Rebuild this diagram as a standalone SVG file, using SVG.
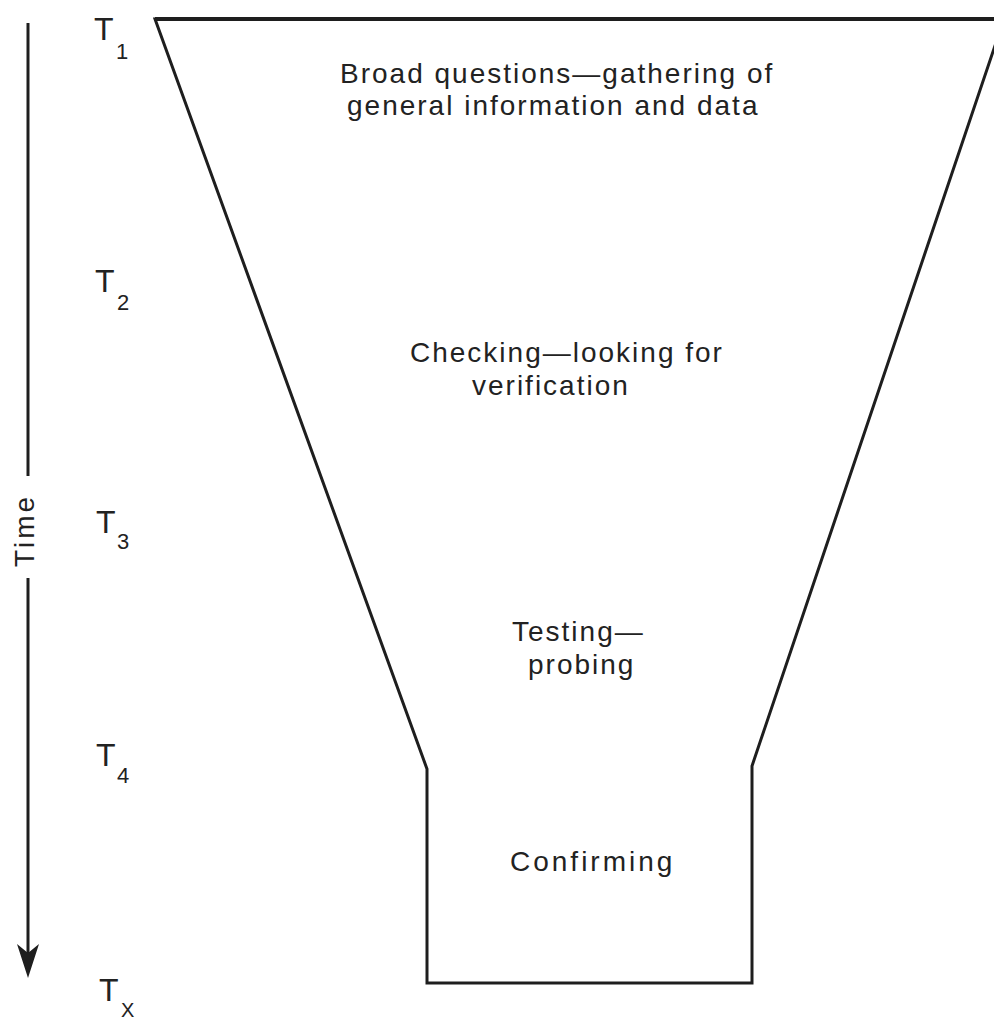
<svg xmlns="http://www.w3.org/2000/svg" width="994" height="1022" viewBox="0 0 994 1022">
  <style>
    .lbl { font-family: "Liberation Sans", Arial, sans-serif; font-size: 28px; letter-spacing: 2px; fill: #222; }
    .t { font-family: "Liberation Sans", Arial, sans-serif; font-size: 32px; fill: #222; }
    .sub { font-family: "Liberation Sans", Arial, sans-serif; font-size: 22px; fill: #222; }
    .edge { fill: none; stroke: #1e1e1e; stroke-width: 3; stroke-linejoin: miter; }
  </style>
  <rect width="994" height="1022" fill="#ffffff"/>

  <!-- time axis -->
  <g id="time-axis">
    <line x1="28" y1="23" x2="28" y2="476" class="edge"/>
    <line x1="28" y1="578" x2="28" y2="956" class="edge"/>
    <path d="M28,978 L17,944 L28,953 L39,944 Z" fill="#1e1e1e"/>
    <text class="lbl" transform="translate(34,567) rotate(-90)" style="letter-spacing:3px">Time</text>
  </g>

  <!-- time marks -->
  <g id="time-marks">
    <text class="t" x="94" y="40">T</text><text class="sub" x="116" y="59">1</text>
    <text class="t" x="95" y="292">T</text><text class="sub" x="117" y="310">2</text>
    <text class="t" x="96" y="533">T</text><text class="sub" x="117" y="549">3</text>
    <text class="t" x="96" y="766">T</text><text class="sub" x="117" y="783">4</text>
    <text class="t" x="99" y="1001">T</text><text class="sub" x="121" y="1017" style="font-size:20px">X</text>
  </g>

  <!-- funnel outline -->
  <g id="funnel">
    <path class="edge" d="M1004,19 L155,19 L427,769 L427,983 L752,983 L752,766 L1004,19" />
    <line x1="155" y1="19" x2="994" y2="19" stroke="#1e1e1e" stroke-width="4"/>
  </g>

  <!-- stage labels -->
  <g id="stage-broad">
    <text class="lbl" x="340" y="83">Broad questions—gathering of</text>
    <text class="lbl" x="347" y="115">general information and data</text>
  </g>
  <g id="stage-checking">
    <text class="lbl" x="410" y="362">Checking—looking for</text>
    <text class="lbl" x="472" y="395">verification</text>
  </g>
  <g id="stage-testing">
    <text class="lbl" x="512" y="641">Testing—</text>
    <text class="lbl" x="528" y="674">probing</text>
  </g>
  <g id="stage-confirming">
    <text class="lbl" x="510" y="871" style="letter-spacing:3px">Confirming</text>
  </g>
</svg>
